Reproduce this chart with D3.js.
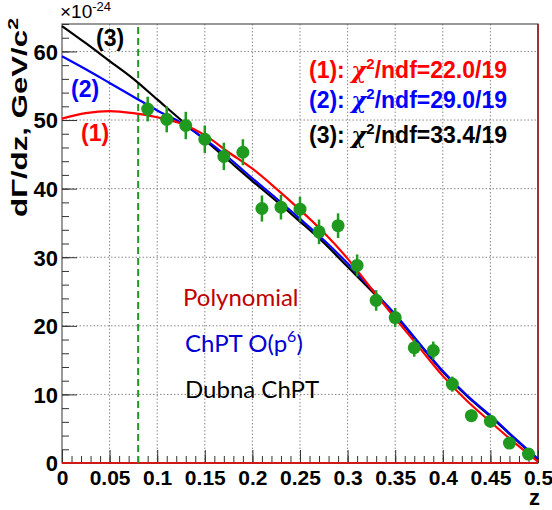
<!DOCTYPE html>
<html>
<head>
<meta charset="utf-8">
<script src="https://cdn.jsdelivr.net/npm/d3@7"></script>
<style>
  body { margin: 0; background: #fff; }
  svg { display: block; }
  .tick line { stroke: #333; }
  .domain { display: none; }
</style>
</head>
<body>
<div id="chart"></div>
<script>
// data
var zPts = [0.09, 0.11, 0.13, 0.15, 0.17, 0.19, 0.21, 0.23, 0.25, 0.27, 0.29,
            0.31, 0.33, 0.35, 0.37, 0.39, 0.41, 0.43, 0.45, 0.47, 0.49];
var yPts = [51.6, 50.1, 49.2, 47.2, 44.7, 45.3, 37.1, 37.3, 37.0, 33.7, 34.6,
            28.8, 23.7, 21.2, 16.8, 16.4, 11.5, 6.9, 6.1, 2.9, 1.3];
var yErr = [1.8, 1.9, 2.0, 2.0, 2.0, 1.9, 1.9, 1.8, 1.8, 1.8, 1.8,
            1.6, 1.5, 1.4, 1.3, 1.3, 1.1, 0.9, 0.9, 0.8, 0.6];

// fit curves sampled every 0.025 in z
var zGrid = [0, 0.025, 0.05, 0.075, 0.1, 0.125, 0.15, 0.175, 0.2, 0.225, 0.25,
             0.275, 0.3, 0.325, 0.35, 0.375, 0.4, 0.425, 0.45, 0.475, 0.5];
var polyFit  = [50.2, 51.0, 51.3, 51.0, 50.4, 49.5, 47.8, 45.3, 42.9, 40.0, 36.9,
                33.6, 29.8, 25.4, 21.1, 16.9, 12.7, 9.1, 6.0, 3.0, 0.2];
var chptFit  = [59.3, 57.4, 55.4, 53.4, 51.4, 49.6, 47.2, 44.5, 41.5, 38.6, 35.6,
                32.5, 29.1, 25.4, 21.7, 17.5, 13.4, 9.9, 6.9, 3.7, 0.6];
var dubnaFit = [63.7, 61.2, 58.6, 56.0, 53.0, 50.0, 47.1, 44.1, 41.1, 38.2, 35.2,
                32.1, 28.6, 25.1, 21.5, 17.4, 13.3, 9.8, 6.8, 3.6, 0.5];

var xTicks = [0, 0.05, 0.1, 0.15, 0.2, 0.25, 0.3, 0.35, 0.4, 0.45, 0.5];
var xTickLabels = ["0", "0.05", "0.1", "0.15", "0.2", "0.25", "0.3", "0.35", "0.4", "0.45", "0.5"];
var yTicks = [0, 10, 20, 30, 40, 50, 60];
var yTickLabels = ["0", "10", "20", "30", "40", "50", "60"];
var cutZ = 0.08;

var chiLabels = [
  {tag: "(1): ", chi: "22.0/19", color: "#f00"},
  {tag: "(2): ", chi: "29.0/19", color: "#00f"},
  {tag: "(3): ", chi: "33.4/19", color: "#000"}
];
var modelNames = ["Polynomial", "ChPT O(p", "Dubna ChPT"];

var svgWidth = 552, svgHeight = 510;

var svg = d3.select("#chart").append("svg")
  .attr("width", svgWidth)
  .attr("height", svgHeight);

var x = d3.scaleLinear().domain([0, 0.5]).range([62, 538]);
var y = d3.scaleLinear().domain([0, 64]).range([463, 24]);

// grid
svg.append("g").selectAll("line").data(xTicks.slice(1, -1)).enter().append("line")
  .attr("x1", d => x(d)).attr("x2", d => x(d))
  .attr("y1", y(0)).attr("y2", y(64))
  .attr("stroke", "#888").attr("stroke-dasharray", "1.5,2");
svg.append("g").selectAll("line").data(yTicks.slice(1)).enter().append("line")
  .attr("x1", x(0)).attr("x2", x(0.5))
  .attr("y1", d => y(d)).attr("y2", d => y(d))
  .attr("stroke", "#888").attr("stroke-dasharray", "1.5,2");

// frame
svg.append("rect")
  .attr("x", x(0)).attr("y", y(64))
  .attr("width", x(0.5) - x(0)).attr("height", y(0) - y(64))
  .attr("fill", "none").attr("stroke", "#555").attr("stroke-width", 1.2);
svg.append("line")
  .attr("x1", x(0.5)).attr("x2", x(0.5)).attr("y1", y(64)).attr("y2", y(0))
  .attr("stroke", "#a01010").attr("stroke-width", 1.5);

// axes with inward ticks
var xMinor = d3.range(0, 0.5001, 0.01);
var yMinor = d3.range(0, 64.01, 2);
svg.append("g").attr("transform", `translate(0,${y(0)})`)
  .call(d3.axisBottom(x).tickValues(xMinor).tickSize(-7).tickFormat(""));
svg.append("g").attr("transform", `translate(0,${y(0)})`)
  .call(d3.axisBottom(x).tickValues(xTicks).tickSize(-13).tickFormat((d, i) => xTickLabels[i]))
  .selectAll("text")
  .attr("y", 22).attr("dy", 0)
  .style("font", "bold 21px 'Liberation Sans', Arial, sans-serif")
  .attr("fill", "#000");
svg.append("g").attr("transform", `translate(${x(0)},0)`)
  .call(d3.axisLeft(y).tickValues(yMinor).tickSize(-7).tickFormat(""));
svg.append("g").attr("transform", `translate(${x(0)},0)`)
  .call(d3.axisLeft(y).tickValues(yTicks).tickSize(-15).tickFormat((d, i) => yTickLabels[i]))
  .selectAll("text")
  .attr("x", -4).attr("dy", "0.36em")
  .style("font", "bold 22px 'Liberation Sans', Arial, sans-serif")
  .attr("fill", "#000");

// bottom red line
svg.append("line")
  .attr("x1", x(0)).attr("x2", x(0.5)).attr("y1", y(0)).attr("y2", y(0))
  .attr("stroke", "#d01818").attr("stroke-width", 2);

// cut line
svg.append("line")
  .attr("x1", x(cutZ)).attr("x2", x(cutZ)).attr("y1", y(0)).attr("y2", y(64))
  .attr("stroke", "#1f9a1f").attr("stroke-width", 2).attr("stroke-dasharray", "7,4");

// fit curves
var line = d3.line()
  .x((d, i) => x(zGrid[i]))
  .y(d => y(d))
  .curve(d3.curveCatmullRom);
[[dubnaFit, "#000"], [chptFit, "#00f"], [polyFit, "#f00"]].forEach(function(c) {
  svg.append("path").datum(c[0])
    .attr("d", line)
    .attr("fill", "none").attr("stroke", c[1]).attr("stroke-width", 2.2);
});

// data points
var pts = svg.append("g");
pts.selectAll("line").data(zPts).enter().append("line")
  .attr("x1", d => x(d)).attr("x2", d => x(d))
  .attr("y1", (d, i) => y(yPts[i] - yErr[i]))
  .attr("y2", (d, i) => y(yPts[i] + yErr[i]))
  .attr("stroke", "#1f9a1f").attr("stroke-width", 2.5);
pts.selectAll("circle").data(zPts).enter().append("circle")
  .attr("cx", d => x(d)).attr("cy", (d, i) => y(yPts[i]))
  .attr("r", 6.5).attr("fill", "#1f9a1f");

// axis titles
svg.append("text")
  .attr("x", 529).attr("y", 505)
  .style("font", "bold 22px 'Liberation Sans', Arial, sans-serif")
  .text("z");
var yTitle = svg.append("text")
  .attr("transform", "translate(27,18) rotate(-90) scale(1.42,1)")
  .attr("text-anchor", "end")
  .style("font", "bold 22px 'Liberation Sans', Arial, sans-serif");
yTitle.append("tspan").text("d\u0393/dz, GeV/c");
yTitle.append("tspan").attr("dy", -9).style("font-size", "15px").text("2");

var expo = svg.append("text").attr("x", 60).attr("y", 18)
  .style("font", "19px 'Liberation Sans', Arial, sans-serif");
expo.append("tspan").text("\u00d710");
expo.append("tspan").attr("dy", -7).style("font-size", "13px").text("-24");

// chi2 labels
var chiY = [78, 108, 143];
chiLabels.forEach(function(c, i) {
  var t = svg.append("text").attr("x", 309).attr("y", chiY[i])
    .attr("fill", c.color)
    .style("font", "bold 23px 'Liberation Sans', Arial, sans-serif");
  t.append("tspan").text(c.tag);
  t.append("tspan").style("font-style", "italic")
    .style("font-family", "'DejaVu Serif', serif").text("\u03c7");
  t.append("tspan").attr("dy", -9).style("font-size", "15px").text("2");
  t.append("tspan").attr("dy", 9).text("/ndf=" + c.chi);
});

// curve tags
var tagPos = [[81, 141, "(1)", "#f00"], [71, 97, "(2)", "#00f"], [96, 46, "(3)", "#000"]];
tagPos.forEach(function(p) {
  svg.append("text").attr("x", p[0]).attr("y", p[1]).attr("fill", p[3])
    .style("font", "bold 23px 'Liberation Sans', Arial, sans-serif")
    .text(p[2]);
});

// model names
var nameFont = "24px 'Comic Sans MS', 'Lato', sans-serif";
svg.append("text").attr("x", 183).attr("y", 306).attr("fill", "#c00000")
  .style("font", nameFont).text(modelNames[0]);
var chpt = svg.append("text").attr("x", 185).attr("y", 352).attr("fill", "#0000d0")
  .style("font", nameFont);
chpt.append("tspan").text(modelNames[1]);
chpt.append("tspan").attr("dy", -10).style("font-size", "16px").text("6");
chpt.append("tspan").attr("dy", 10).text(")");
svg.append("text").attr("x", 185).attr("y", 398).attr("fill", "#000")
  .style("font", nameFont).text(modelNames[2]);
</script>
</body>
</html>
